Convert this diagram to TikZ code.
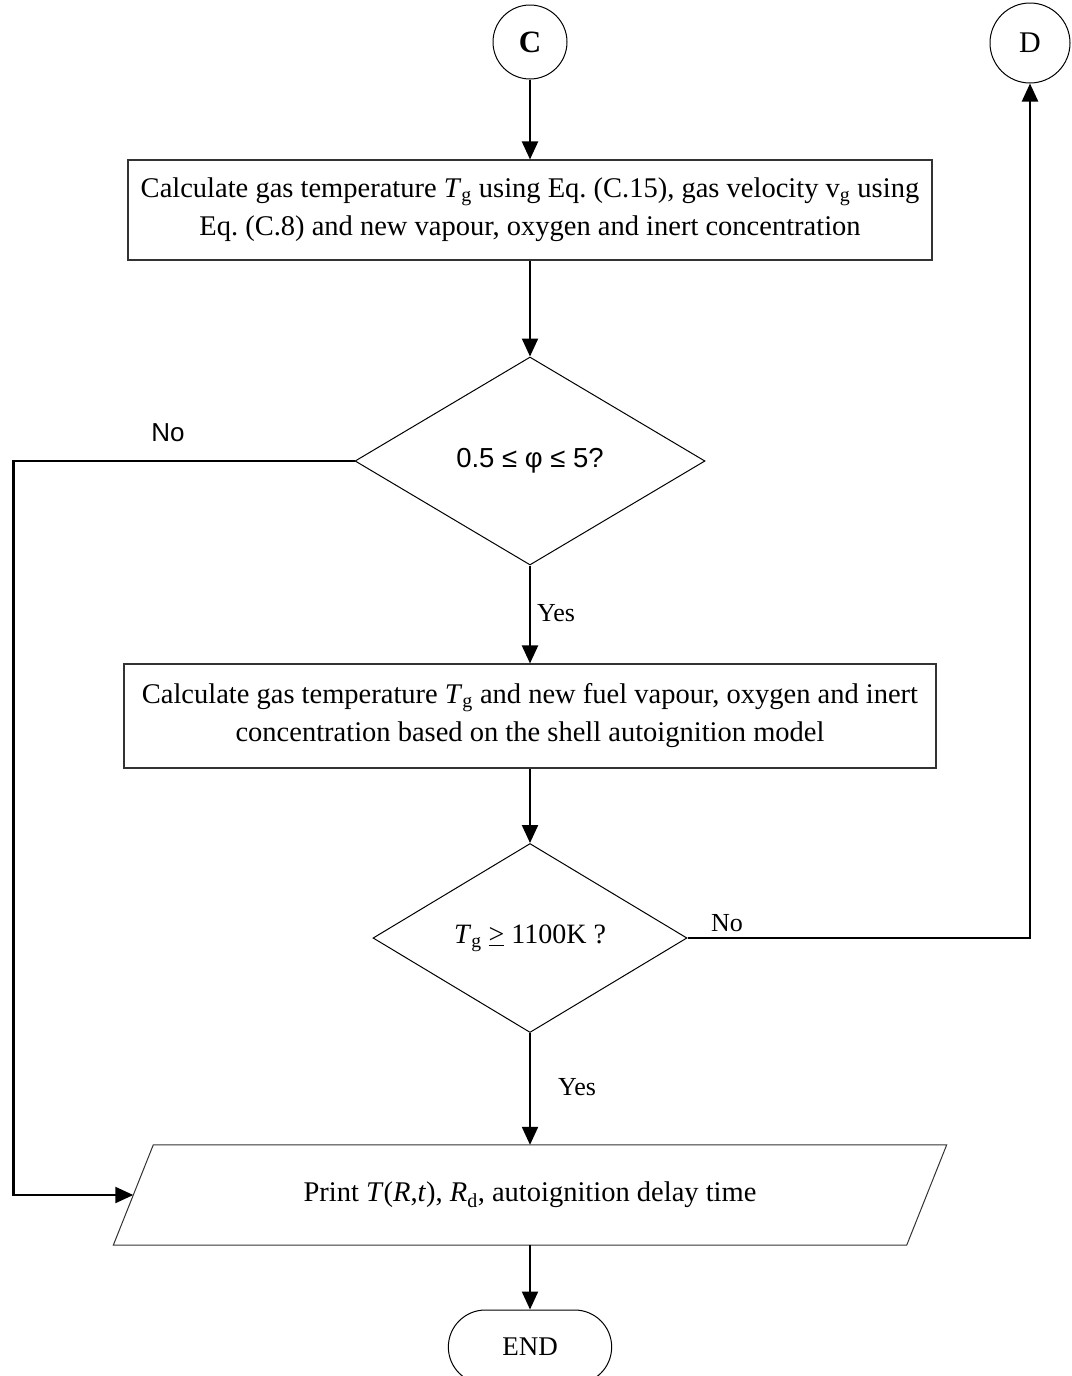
\documentclass[tikz,border=0pt]{standalone}
\usepackage{fontspec}
\setmainfont{Liberation Serif}
\newfontfamily\arialfont{Liberation Sans}
\usetikzlibrary{shapes.geometric,shapes.misc,arrows.meta}
\begin{document}
\begin{tikzpicture}[x=1pt,y=-1pt,
  box/.style={draw=black!80, line width=1.1pt, align=center, font=\fontsize{28.5}{38}\selectfont, inner sep=0pt},
  dec/.style={draw, diamond, line width=1pt, inner sep=0pt},
  conn/.style={draw, circle, line width=1pt, inner sep=0pt},
  arr/.style={line width=2.2pt, -{Triangle[length=18pt,width=16pt]}},
  lab/.style={font=\fontsize{26}{30}\selectfont, inner sep=0pt}]
\useasboundingbox (0,0) rectangle (1071,1376);

\node[conn, minimum size=74pt, font=\fontsize{31}{31}\selectfont\bfseries] (C) at (530,42) {C};
\node[conn, minimum size=80pt, font=\fontsize{30}{30}\selectfont] (D) at (1030,43) {D};

\node[box, minimum width=804pt, minimum height=100pt] (b1) at (530,210)
  {Calculate gas temperature \textit{T}\textsubscript{g} using Eq.~(C.15), gas velocity v\textsubscript{g} using\\Eq.~(C.8) and new vapour, oxygen and inert concentration};

\node[dec, minimum width=350pt, minimum height=208pt, font=\arialfont\fontsize{27.5}{30}\selectfont] (d1) at (530,461) {0.5 ≤ φ ≤ 5?};

\node[box, minimum width=812pt, minimum height=104pt] (b2) at (530,716)
  {Calculate gas temperature \textit{T}\textsubscript{g} and new fuel vapour, oxygen and inert\\concentration based on the shell autoignition model};

\node[dec, minimum width=314pt, minimum height=189pt, font=\fontsize{28}{30}\selectfont] (d2) at (530,938)
  {\textit{T}\textsubscript{g} \underline{>} 1100K ?};

\node[minimum width=793pt, minimum height=100pt, inner sep=0pt,
  font=\fontsize{28.5}{30}\selectfont] (pp) at (530,1195)
  {Print \textit{T}(\textit{R},\textit{t}), \textit{R}\textsubscript{d}, autoignition delay time};
\draw[black!80, line width=1pt] ([xshift=-20pt]pp.south west) -- ([xshift=20pt]pp.north west)
  -- ([xshift=20pt]pp.north east) -- ([xshift=-20pt]pp.south east) -- cycle;

\node[draw, rounded rectangle, minimum width=170pt, minimum height=74pt, line width=1pt,
  font=\fontsize{27}{30}\selectfont] (end) at (530,1347) {END};

\draw[arr] (C.south) -- (b1.north);
\draw[arr] (b1.south) -- (d1.north);
\draw[arr] (d1.south) -- (b2.north);
\draw[arr] (b2.south) -- (d2.north);
\draw[arr] (d2.south) -- (pp.north);
\draw[arr] (pp.south) -- (end.north);
\draw[arr] (d1.west) -- ++(-341,0) |- (pp.west);
\draw[arr] (d2.east) -| (D.south);

\node[lab, font=\arialfont\fontsize{26}{30}\selectfont] (no1) at (168,433) {No};
\node[lab] (yes1) at (556,613) {Yes};
\node[lab] (no2) at (727,923) {No};
\node[lab] (yes2) at (577,1087) {Yes};
\end{tikzpicture}
\end{document}
